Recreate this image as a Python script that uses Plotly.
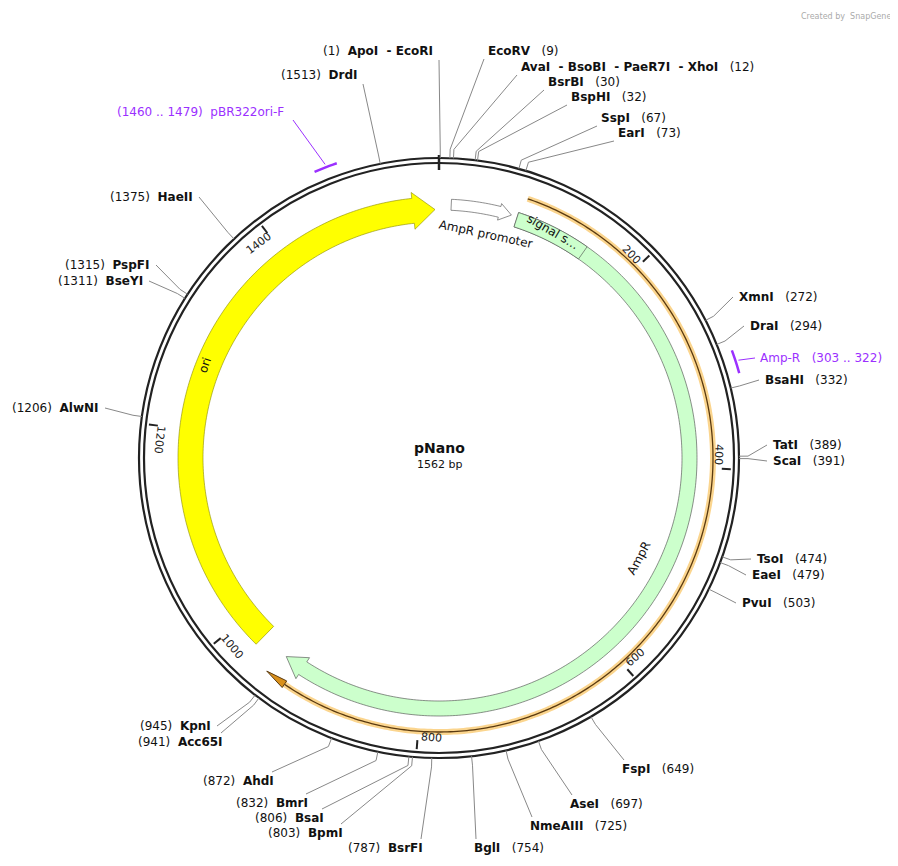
import math
import plotly.graph_objects as go

TOTAL = 1562
NAME = "pNano"

# enzymes: name text, bp position
enz_right = [("EcoRV", 9), ("AvaI  - BsoBI  - PaeR7I  - XhoI", 12), ("BsrBI", 30), ("BspHI", 32),
             ("SspI", 67), ("EarI", 73), ("XmnI", 272), ("DraI", 294), ("BsaHI", 332),
             ("TatI", 389), ("ScaI", 391), ("TsoI", 474), ("EaeI", 479), ("PvuI", 503),
             ("FspI", 649), ("AseI", 697), ("NmeAIII", 725), ("BglI", 754)]
enz_left = [("ApoI  - EcoRI", 1), ("DrdI", 1513), ("HaeII", 1375), ("PspFI", 1315), ("BseYI", 1311),
            ("AlwNI", 1206), ("KpnI", 945), ("Acc65I", 941), ("AhdI", 872), ("BmrI", 832),
            ("BsaI", 806), ("BpmI", 803), ("BsrFI", 787)]
# label anchor points (layout)
right_xy = [(486, 51), (519, 67), (546, 82), (569, 97), (599, 118), (616, 133), (737, 297), (748, 326),
            (763, 380), (771, 445), (771, 461), (755, 559), (750, 575), (740, 603), (620, 769),
            (568, 804), (528, 826), (472, 848)]
left_xy = [(435, 51), (359, 75), (195, 197), (152, 265), (145, 281), (101, 408), (213, 726),
           (225, 742), (276, 781), (310, 803), (326, 818), (345, 833), (425, 848)]

ticks = [200, 400, 600, 800, 1000, 1200, 1400]
primers = [("pBR322ori-F", 1460, 1479), ("Amp-R", 303, 322)]

CX, CY = 439, 458
FONT = "DejaVu Sans"
OFF = 8  # page body margin


def ang(bp):
    return bp / TOTAL * 2 * math.pi


def pt(bp, r):
    a = ang(bp)
    return CX + r * math.sin(a), CY - r * math.cos(a)


def arc_pts(b0, b1, r, n=None):
    n = n or max(8, int(abs(b1 - b0) / 3))
    return [pt(b0 + (b1 - b0) * i / n, r) for i in range(n + 1)]


def path(pts, close=True):
    s = "M " + " L ".join(f"{x:.2f},{y:.2f}" for x, y in pts)
    return s + (" Z" if close else "")


def arrow(b0, b1, r_in, r_out, head, flare=0):
    body_end = b1 - head
    outer = arc_pts(b0, body_end, r_out)
    inner = arc_pts(body_end, b0, r_in)
    rm = (r_in + r_out) / 2
    headp = [pt(body_end, r_out + flare), pt(b1, rm), pt(body_end, r_in - flare)]
    return path(outer + headp + inner)


fig = go.Figure()
shapes = []
ann = []

# backbone circle
for r in (295, 300):
    shapes.append(dict(type="circle", x0=CX - r, x1=CX + r, y0=CY - r, y1=CY + r,
                       line=dict(color="#222", width=2.2)))
shapes.append(dict(type="line", x0=CX, x1=CX, y0=CY - 288, y1=CY - 303, line=dict(color="#222", width=2.5)))

# ticks
for t in ticks:
    x0, y0 = pt(t, 292)
    x1, y1 = pt(t, 283)
    shapes.append(dict(type="line", x0=x0, x1=x1, y0=y0, y1=y1, line=dict(color="#222", width=2)))
    lx, ly = pt(t - 12, 280)
    deg = t / TOTAL * 360
    ta = deg
    if 100 < deg < 280:
        ta = deg - 180
    elif deg >= 280:
        ta = deg - 360
    ann.append(dict(x=lx, y=ly, text=str(t), textangle=ta, showarrow=False,
                    font=dict(size=11, color="#222", family=FONT)))

# orange primer binding line (AmpR)
orng = arc_pts(82, 930, 274)
shapes.append(dict(type="path", path=path(orng, False), line=dict(color="#fbd58e", width=6)))
shapes.append(dict(type="path", path=path(orng, False), line=dict(color="#5a3a10", width=1.3)))
hx = [pt(930, 278), pt(950, 274), pt(930, 270)]
shapes.append(dict(type="path", path=path(hx), fillcolor="#d9901a", line=dict(color="#5a3a10", width=1)))

# features
shapes.append(dict(type="path", path=arrow(974, 1558, 236, 261, 22, 6),
                   fillcolor="#ffff00", line=dict(color="#888800", width=0.6)))
shapes.append(dict(type="path", path=arrow(78, 944, 243, 258, 20, 5),
                   fillcolor="#ccffcc", line=dict(color="#444", width=0.6)))
sig = arc_pts(78, 152, 258) + arc_pts(152, 78, 243)
shapes.append(dict(type="path", path=path(sig), fillcolor="#ccffcc", line=dict(color="#444", width=0.6)))
shapes.append(dict(type="path", path=arrow(12, 72, 248, 259, 12, 3),
                   fillcolor="white", line=dict(color="#444", width=0.6)))

# primers
for name, a, b in primers:
    p = arc_pts(a, b, 312, 6)
    shapes.append(dict(type="path", path=path(p, False), line=dict(color="#9b30ff", width=2.5)))
mx, my = pt(1470, 315)
shapes.append(dict(type="line", x0=mx, y0=my, x1=293, y1=120, line=dict(color="#9b30ff", width=1)))
ann.append(dict(x=286, y=112, text="(1460 .. 1479)  pBR322ori-F", xanchor="right", showarrow=False,
                font=dict(size=12, color="#9b30ff", family=FONT)))
mx, my = pt(312, 315)
shapes.append(dict(type="line", x0=mx, y0=my, x1=755, y1=358, line=dict(color="#9b30ff", width=1)))
ann.append(dict(x=758, y=358, text="Amp-R   (303 .. 322)", xanchor="left", showarrow=False,
                font=dict(size=12, color="#9b30ff", family=FONT)))


def leader(bp, ex, ey):
    x0, y0 = pt(bp, 300)
    x1, y1 = pt(bp, 309)
    shapes.append(dict(type="line", x0=x0, y0=y0, x1=x1, y1=y1, line=dict(color="#888", width=1)))
    shapes.append(dict(type="line", x0=x1, y0=y1, x1=ex, y1=ey, line=dict(color="#888", width=1)))


for (nm, bp), (x, y) in zip(enz_right, right_xy):
    if y < 140:
        ex, ey = x - 2, y + 8
    elif y > 740:
        ex, ey = x + 4, y - 9
    else:
        ex, ey = x - 4, y
    leader(bp, ex, ey)
    ann.append(dict(x=x, y=y, text=f"<b>{nm}</b>   ({bp})", xanchor="left", showarrow=False,
                    font=dict(size=12, color="#111", family=FONT)))
for (nm, bp), (x, y) in zip(enz_left, left_xy):
    if y < 140:
        ex, ey = x + 4, y + 9
    elif y > 740:
        ex, ey = x - 4, y - 9
    else:
        ex, ey = x + 4, y
    leader(bp, ex, ey)
    ann.append(dict(x=x, y=y, text=f"({bp})  <b>{nm}</b>", xanchor="right", showarrow=False,
                    font=dict(size=12, color="#111", family=FONT)))

# feature labels
ann += [
    dict(x=485, y=234, text="AmpR promoter", textangle=12, showarrow=False,
         font=dict(size=12, color="#111", family=FONT)),
    dict(x=553, y=232, text="signal s…", textangle=30, showarrow=False,
         font=dict(size=12, color="#111", family=FONT)),
    dict(x=639, y=558, text="AmpR", textangle=-62, showarrow=False,
         font=dict(size=12, color="#111", family=FONT)),
    dict(x=205, y=365, text="ori", textangle=-72, showarrow=False,
         font=dict(size=12, color="#111", family=FONT)),
    dict(x=439, y=448, text=f"<b>{NAME}</b>", showarrow=False, font=dict(size=14, color="#111", family=FONT)),
    dict(x=439, y=464, text=f"{TOTAL} bp", showarrow=False, font=dict(size=11, color="#111", family=FONT)),
    dict(x=893, y=16, text="Created by  SnapGene", xanchor="right", showarrow=False,
         font=dict(size=8, color="#aaa", family=FONT)),
]

fig.update_layout(
    width=898, height=866, margin=dict(l=0, r=0, t=0, b=0),
    plot_bgcolor="white", paper_bgcolor="white", showlegend=False,
    xaxis=dict(range=[OFF, 898 + OFF], visible=False, fixedrange=True),
    yaxis=dict(range=[866 + OFF, OFF], visible=False, fixedrange=True),
    shapes=shapes, annotations=ann,
)
fig.write_html("out.html")
